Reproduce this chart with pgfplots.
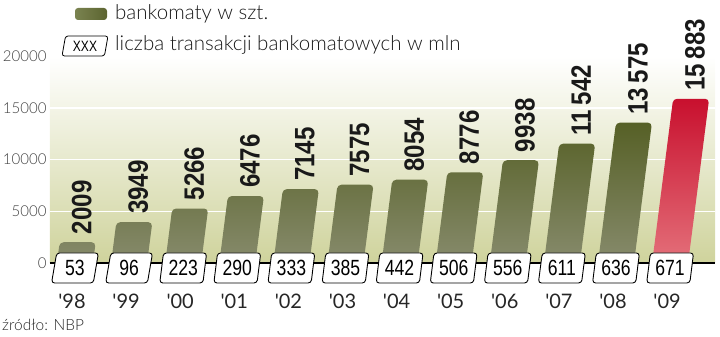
\documentclass[border=0pt]{standalone}
\usepackage{pgfplots}
\pgfplotsset{compat=1.18}
\usepackage{fontspec}
\setmainfont{Lato}
\newfontfamily\light{Lato Light}
\newfontfamily\yr{Lato}[Ligatures=TeXOff]
\newfontfamily\lbl[FakeStretch=0.86]{Liberation Sans Bold}
\newfontfamily\cond[FakeStretch=0.8]{Liberation Sans}
\usetikzlibrary{shapes.geometric}
\definecolor{bartop}{RGB}{86,96,38}
\definecolor{barbot}{RGB}{135,139,108}
\definecolor{redtop}{RGB}{200,16,46}
\definecolor{redbot}{RGB}{228,112,122}
\definecolor{bgbot}{RGB}{207,211,156}
\definecolor{legl}{RGB}{122,131,80}
\definecolor{legr}{RGB}{92,100,48}
\begin{document}
\begin{tikzpicture}
\useasboundingbox (-50pt,-74pt) rectangle (670pt,263pt);
\begin{axis}[
  scale only axis, width=665pt, height=206.8pt,
  xmin=-0.462, xmax=11.83, ymin=0, ymax=20000,
  axis x line*=bottom, axis y line*=left,
  x axis line style={-, line width=1.6pt, black},
  y axis line style={draw=none},
  major tick length=0pt,
  xtick={0,1,2,3,4,5,6,7,8,9,10,11},
  xticklabels={'98,'99,'00,'01,'02,'03,'04,'05,'06,'07,'08,'09},
  xticklabel style={font=\yr\fontsize{20}{22}\selectfont, text=black!85, anchor=center, yshift=-38pt, xshift=-3pt},
  ytick={0,5000,10000,15000,20000},
  scaled y ticks=false,
  /pgf/number format/assume math mode=true,
  yticklabel style={font=\light\fontsize{15}{16}\selectfont, text=black!75, /pgf/number format/1000 sep={}},
  ymajorgrids, grid style={white, line width=1.4pt},
  axis background/.style={top color=white, bottom color=bgbot},
  clip=false,
]
\addplot[ybar, bar width=36pt, bar shift=0pt, draw=none, top color=bartop, bottom color=barbot, rounded corners=4pt, xslant=0.128]
  coordinates {(0,2009) (1,3949) (2,5266) (3,6476) (4,7145) (5,7575) (6,8054) (7,8776) (8,9938) (9,11542) (10,13575)};
\addplot[ybar, bar width=36pt, bar shift=0pt, draw=none, top color=redtop, bottom color=redbot, rounded corners=4pt, xslant=0.128]
  coordinates {(11,15883)};
\addplot[draw=none, xslant=0.128, nodes near coords, point meta=explicit symbolic,
  nodes near coords style={font=\lbl\fontsize{28}{30}\selectfont, text=black!90, anchor=west, xshift=4pt, yshift=8pt, rotate=90, inner sep=0pt}]
  coordinates {(0,2009)[2009] (1,3949)[3949] (2,5266)[5266] (3,6476)[6476] (4,7145)[7145] (5,7575)[7575] (6,8054)[8054] (7,8776)[8776] (8,9938)[9938] (9,11542)[11\,542] (10,13575)[13\,575] (11,15883)[15\,883]};
\addplot[draw=none, nodes near coords, point meta=explicit symbolic,
  nodes near coords style={trapezium, trapezium left angle=80, trapezium right angle=100, trapezium stretches=true, minimum width=47pt, minimum height=30pt, rounded corners=3pt, draw=black, line width=0.9pt, fill=white, anchor=center, yshift=-5pt, inner sep=0pt, font=\cond\fontsize{22}{23}\selectfont, text=black}]
  coordinates {(0,0)[53] (1,0)[96] (2,0)[223] (3,0)[290] (4,0)[333] (5,0)[385] (6,0)[442] (7,0)[506] (8,0)[556] (9,0)[611] (10,0)[636] (11,0)[671]};
\end{axis}
\shade[left color=legl, right color=legr, rounded corners=3pt] (25pt,243pt) rectangle (57pt,255pt);
\node[anchor=west, inner sep=0pt, font=\light\fontsize{20.5}{22}\selectfont, text=black!90] at (65pt,249pt) {bankomaty w szt.};
\node[trapezium, trapezium left angle=78, trapezium right angle=102, trapezium stretches=true, minimum width=46pt, minimum height=20pt, rounded corners=2.5pt, draw=black, line width=0.8pt, fill=white, inner sep=0pt, font=\cond\fontsize{15}{16}\selectfont] at (35pt,217pt) {XXX};
\node[anchor=west, inner sep=0pt, font=\light\fontsize{20.5}{22}\selectfont, text=black!90] at (65pt,218pt) {liczba transakcji bankomatowych w mln};
\node[anchor=west, inner sep=0pt, font=\light\fontsize{15.5}{16}\selectfont, text=black!85] at (-48pt,-62pt) {źródło: NBP};
\end{tikzpicture}
\end{document}
